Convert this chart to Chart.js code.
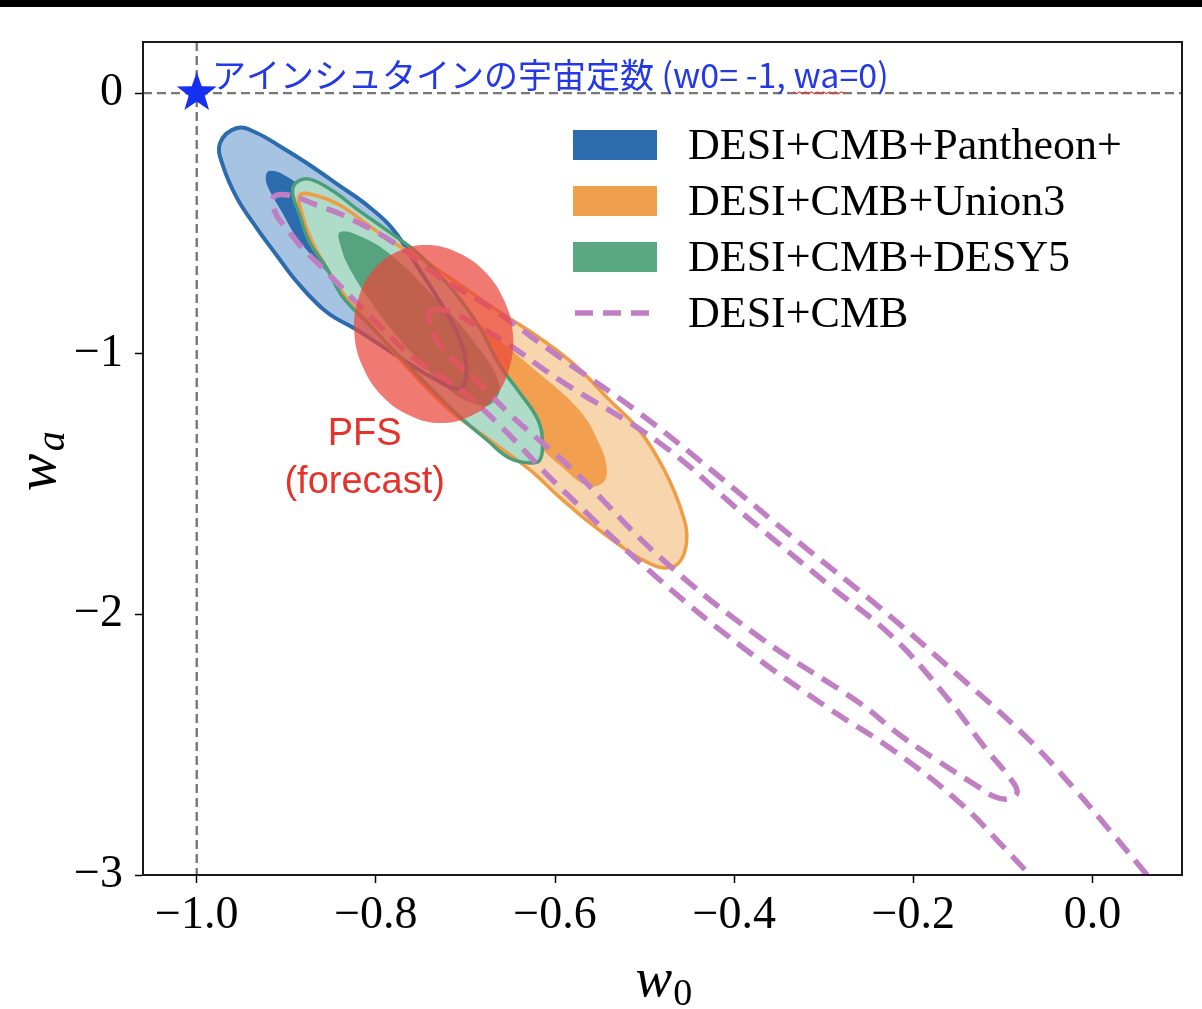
<!DOCTYPE html>
<html>
<head>
<meta charset="utf-8">
<script src="https://cdn.jsdelivr.net/npm/chart.js@4.4.1/dist/chart.umd.min.js"></script>
<style>
  html, body { margin: 0; padding: 0; background: #fff; }
  #wrap { position: relative; width: 1202px; height: 1009px; }
  #topbar { position: absolute; left: 0; top: 0; width: 1202px; height: 7px; background: #000; }
</style>
</head>
<body>
<div id="wrap"><canvas id="chart"></canvas><div id="topbar"></div></div>
<script>
// --- data (w0, wa) ---
const xTicks = [-1.0, -0.8, -0.6, -0.4, -0.2, 0.0];
const yTicks = [0, -1, -2, -3];
const seriesLabels = ['DESI+CMB+Pantheon+', 'DESI+CMB+Union3', 'DESI+CMB+DESY5', 'DESI+CMB'];
const lambdaPoint = [-1, 0];
const lambdaLabel = 'アインシュタインの宇宙定数 (w0= -1, wa=0)';
const pfsLabel = ['PFS', '(forecast)'];

const pantheonOuter = [
  [-0.955, -0.134], [-0.933, -0.153], [-0.904, -0.211], [-0.874, -0.276], [-0.840, -0.357],
  [-0.810, -0.430], [-0.781, -0.522], [-0.751, -0.679], [-0.725, -0.821], [-0.706, -0.947],
  [-0.699, -1.063], [-0.706, -1.132], [-0.732, -1.101], [-0.773, -1.016], [-0.821, -0.909],
  [-0.855, -0.840], [-0.888, -0.725], [-0.911, -0.621], [-0.933, -0.518], [-0.955, -0.403],
  [-0.971, -0.276], [-0.974, -0.192]
];
const pantheonInner = [
  [-0.919, -0.299], [-0.902, -0.315], [-0.879, -0.372], [-0.852, -0.449], [-0.818, -0.564],
  [-0.779, -0.717], [-0.746, -0.890], [-0.723, -1.043], [-0.718, -1.120], [-0.729, -1.112],
  [-0.757, -1.024], [-0.796, -0.890], [-0.835, -0.756], [-0.865, -0.648], [-0.888, -0.556],
  [-0.905, -0.456], [-0.919, -0.372], [-0.923, -0.326]
];
const union3Outer = [
  [-0.885, -0.391], [-0.865, -0.395], [-0.840, -0.430], [-0.813, -0.495], [-0.785, -0.564],
  [-0.751, -0.633], [-0.706, -0.736], [-0.662, -0.840], [-0.617, -0.940], [-0.578, -1.043],
  [-0.539, -1.178], [-0.506, -1.293], [-0.478, -1.446], [-0.458, -1.611], [-0.453, -1.715],
  [-0.461, -1.799], [-0.478, -1.822], [-0.500, -1.795], [-0.528, -1.734], [-0.561, -1.649],
  [-0.595, -1.550], [-0.628, -1.446], [-0.673, -1.331], [-0.718, -1.216], [-0.762, -1.063],
  [-0.801, -0.909], [-0.835, -0.775], [-0.857, -0.660], [-0.872, -0.564], [-0.882, -0.468]
];
const union3Inner = [
  [-0.773, -0.648], [-0.729, -0.756], [-0.676, -0.909], [-0.625, -1.055], [-0.573, -1.216],
  [-0.550, -1.350], [-0.542, -1.446], [-0.547, -1.496], [-0.564, -1.507], [-0.595, -1.427],
  [-0.628, -1.323], [-0.662, -1.216], [-0.706, -1.063], [-0.746, -0.871], [-0.768, -0.736]
];
const desy5Outer = [
  [-0.888, -0.341], [-0.874, -0.330], [-0.848, -0.376], [-0.818, -0.453], [-0.788, -0.526],
  [-0.751, -0.621], [-0.712, -0.765], [-0.684, -0.901], [-0.662, -1.043], [-0.640, -1.147],
  [-0.619, -1.254], [-0.614, -1.343], [-0.617, -1.408], [-0.628, -1.419], [-0.651, -1.400],
  [-0.676, -1.331], [-0.706, -1.243], [-0.737, -1.139], [-0.773, -1.013], [-0.807, -0.890],
  [-0.837, -0.782], [-0.855, -0.671], [-0.874, -0.572], [-0.885, -0.468], [-0.893, -0.380]
];
const desy5Inner = [
  [-0.840, -0.533], [-0.813, -0.556], [-0.779, -0.633], [-0.737, -0.775], [-0.692, -0.947],
  [-0.662, -1.120], [-0.673, -1.197], [-0.695, -1.185], [-0.718, -1.139], [-0.773, -0.947],
  [-0.807, -0.794], [-0.827, -0.687], [-0.838, -0.602]
];
// DESI+CMB 95%: open, both ends leave the plot through the bottom edge
const cmbOuter = [
  [0.061, -3.000], [0.019, -2.827], [-0.022, -2.662], [-0.074, -2.470], [-0.148, -2.240],
  [-0.238, -1.972], [-0.327, -1.726], [-0.416, -1.473], [-0.506, -1.227], [-0.595, -1.013],
  [-0.673, -0.821], [-0.729, -0.706], [-0.781, -0.572], [-0.837, -0.468], [-0.866, -0.430],
  [-0.898, -0.391], [-0.915, -0.403], [-0.911, -0.468], [-0.900, -0.518], [-0.885, -0.583],
  [-0.855, -0.687], [-0.799, -0.882], [-0.759, -1.013], [-0.706, -1.139], [-0.662, -1.274],
  [-0.595, -1.511], [-0.483, -1.868], [-0.391, -2.125], [-0.297, -2.355], [-0.223, -2.520],
  [-0.148, -2.723], [-0.096, -2.904], [-0.070, -3.000]
];
const cmbInner = [
  [-0.738, -0.833], [-0.714, -0.844], [-0.684, -0.898], [-0.654, -0.959], [-0.595, -1.101],
  [-0.483, -1.343], [-0.386, -1.626], [-0.297, -1.880], [-0.223, -2.087], [-0.163, -2.317],
  [-0.118, -2.520], [-0.093, -2.624], [-0.084, -2.681], [-0.093, -2.708], [-0.109, -2.700],
  [-0.129, -2.658], [-0.171, -2.566], [-0.215, -2.463], [-0.260, -2.340], [-0.372, -2.087],
  [-0.483, -1.780], [-0.580, -1.446], [-0.647, -1.243], [-0.692, -1.089], [-0.714, -1.024],
  [-0.732, -0.947], [-0.740, -0.882]
];
const pfsEllipse = [
  [-0.647, -0.924], [-0.657, -0.794], [-0.679, -0.683], [-0.710, -0.610], [-0.743, -0.583],
  [-0.777, -0.610], [-0.804, -0.683], [-0.820, -0.794], [-0.824, -0.924], [-0.814, -1.055],
  [-0.792, -1.166], [-0.761, -1.239], [-0.728, -1.266], [-0.694, -1.239], [-0.667, -1.166],
  [-0.651, -1.055]
];

// label anchors in data units
const pfsLabelAt = [-0.8125, -1.31];
const lambdaLabelAt = [-0.983, 0.02];

const colors = {
  pantheon: '#2d6baf', pantheonLight: '#a6c4e1',
  union3: '#f09c47', union3Inner: '#f2a050', union3Light: '#f8d6ad',
  desy5: '#4c9e78', desy5Inner: '#55a47f', desy5Light: '#afdcc8',
  cmb: '#c17fc3', pfs: 'rgba(234, 70, 58, 0.72)'
};
const legendSwatch = ['#2d6baf', '#f0a04c', '#5aa884'];

const pts = arr => arr.map(p => ({ x: p[0], y: p[1] }));

function fillSet(arr, color, order) {
  return { data: pts(arr), closed: true, fill: 'shape', backgroundColor: color,
           borderWidth: 0, pointRadius: 0, tension: 0.4, order };
}
function lineSet(arr, color, width, order, dash, closed) {
  return { data: pts(arr), closed, fill: false, borderColor: color, borderWidth: width,
           borderDash: dash || [], pointRadius: 0, tension: 0.4, order,
           borderCapStyle: 'butt', borderJoinStyle: 'round' };
}

// make the closed contours loop smoothly back to their first point
const loopPlugin = {
  id: 'closedContours',
  afterDatasetUpdate(chart, args) {
    const ds = chart.data.datasets[args.index];
    if (!ds.closed) return;
    const line = chart.getDatasetMeta(args.index).dataset;
    line._loop = true;
    line._fullLoop = true;
    line._pointsUpdated = false;
    line._segments = undefined;
    line._path = undefined;
  }
};

function drawStar(ctx, cx, cy, R, r) {
  ctx.beginPath();
  for (let i = 0; i < 10; i++) {
    const ang = -Math.PI / 2 + i * Math.PI / 5;
    const rad = i % 2 ? r : R;
    ctx.lineTo(cx + rad * Math.cos(ang), cy + rad * Math.sin(ang));
  }
  ctx.closePath();
  ctx.fill();
}

const decorPlugin = {
  id: 'decor',
  beforeDatasetsDraw(chart) {
    const { ctx, chartArea: a, scales: { x, y } } = chart;
    ctx.save();
    ctx.strokeStyle = '#777';
    ctx.lineWidth = 2.4;
    ctx.setLineDash([9, 5]);
    ctx.beginPath();
    const px = x.getPixelForValue(lambdaPoint[0]);
    const py = y.getPixelForValue(lambdaPoint[1]);
    ctx.moveTo(px, a.top); ctx.lineTo(px, a.bottom);
    ctx.moveTo(a.left, py); ctx.lineTo(a.right, py);
    ctx.stroke();
    ctx.restore();
  },
  afterDraw(chart) {
    const { ctx, chartArea: a, scales: { x, y } } = chart;
    ctx.save();

    // frame
    ctx.strokeStyle = '#1a1a1a';
    ctx.lineWidth = 2;
    ctx.strokeRect(a.left, a.top, a.width, a.height);

    // cosmological constant star + label
    ctx.fillStyle = '#1530f0';
    drawStar(ctx, x.getPixelForValue(lambdaPoint[0]), y.getPixelForValue(lambdaPoint[1]), 21, 8.5);
    ctx.fillStyle = '#2338e6';
    ctx.font = '34px "Noto Sans CJK JP"';
    ctx.textAlign = 'left';
    ctx.textBaseline = 'alphabetic';
    const lx = x.getPixelForValue(lambdaLabelAt[0]);
    const ly = y.getPixelForValue(lambdaLabelAt[1]);
    ctx.fillText(lambdaLabel, lx, ly);
    // spell-check squiggle under "wa"
    const pre = lambdaLabel.slice(0, lambdaLabel.indexOf('wa='));
    const sx = lx + ctx.measureText(pre).width;
    const sw = ctx.measureText('wa').width + 4;
    ctx.strokeStyle = '#e03a3a';
    ctx.lineWidth = 1.2;
    ctx.beginPath();
    for (let i = 0; i <= Math.round(sw / 3); i++) {
      ctx.lineTo(sx + i * 3, ly + 4 + (i % 2 ? 2 : 0));
    }
    ctx.stroke();

    // PFS label
    ctx.fillStyle = '#e5322a';
    ctx.font = '38px "Liberation Sans"';
    ctx.textAlign = 'center';
    ctx.textBaseline = 'middle';
    const tx = x.getPixelForValue(pfsLabelAt[0]);
    const ty = y.getPixelForValue(pfsLabelAt[1]);
    ctx.fillText(pfsLabel[0], tx, ty);
    ctx.fillText(pfsLabel[1], tx, ty + 48);

    // legend
    ctx.textAlign = 'left';
    seriesLabels.forEach((name, i) => {
      const cy = a.top + 103 + i * 56;
      if (i < 3) {
        ctx.fillStyle = legendSwatch[i];
        ctx.fillRect(a.left + 430, cy - 15, 84, 30);
      } else {
        ctx.strokeStyle = colors.cmb;
        ctx.lineWidth = 5.5;
        ctx.setLineDash([18, 10]);
        ctx.beginPath();
        ctx.moveTo(a.left + 432, cy); ctx.lineTo(a.left + 508, cy);
        ctx.stroke();
        ctx.setLineDash([]);
      }
      ctx.fillStyle = '#000';
      ctx.font = '44px "Liberation Serif"';
      ctx.textBaseline = 'middle';
      ctx.fillText(name, a.left + 545, cy + 2);
    });

    // axis titles: w_0 and w_a
    ctx.fillStyle = '#000';
    ctx.textBaseline = 'alphabetic';
    ctx.textAlign = 'left';
    const xc = (a.left + a.right) / 2;
    ctx.font = 'italic 55px "Liberation Serif"';
    const ww = ctx.measureText('w').width;
    ctx.fillText('w', xc - 27, 996);
    ctx.font = '38px "Liberation Serif"';
    ctx.fillText('0', xc - 27 + ww + 1, 1005);

    ctx.translate(55, 491);
    ctx.rotate(-Math.PI / 2);
    ctx.font = 'italic 56px "Liberation Serif"';
    ctx.fillText('w', 0, 0);
    ctx.font = 'italic 40px "Liberation Serif"';
    ctx.fillText('a', ww + 3, 9);
    ctx.restore();
  }
};

const fmt = (v, d) => (v < 0 ? '\u2212' : '') + Math.abs(v).toFixed(d);

new Chart(document.getElementById('chart'), {
  type: 'line',
  data: {
    datasets: [
      // fills (bottom)
      fillSet(pantheonOuter, colors.pantheonLight, 20),
      fillSet(pantheonInner, colors.pantheon, 19),
      fillSet(union3Outer, colors.union3Light, 17),
      fillSet(union3Inner, colors.union3Inner, 16),
      fillSet(desy5Outer, colors.desy5Light, 15),
      fillSet(desy5Inner, colors.desy5Inner, 14),
      // outlines
      lineSet(pantheonOuter, colors.pantheon, 4, 12, null, true),
      lineSet(union3Outer, colors.union3, 3.5, 11, null, true),
      lineSet(desy5Outer, colors.desy5, 3.5, 10, null, true),
      // DESI+CMB dashed
      lineSet(cmbOuter, colors.cmb, 5.5, 5, [19, 10], false),
      lineSet(cmbInner, colors.cmb, 5.5, 4, [19, 10], true),
      // PFS forecast (top)
      fillSet(pfsEllipse, colors.pfs, 1)
    ]
  },
  options: {
    responsive: true,
    maintainAspectRatio: false,
    animation: false,
    layout: { padding: { top: 42, right: 20, left: 0, bottom: 0 } },
    plugins: { legend: { display: false }, tooltip: { enabled: false } },
    scales: {
      x: {
        type: 'linear', min: -1.06, max: 0.1,
        afterBuildTicks: s => { s.ticks = xTicks.map(v => ({ value: v })); },
        afterFit: s => { s.height = 134; },
        ticks: { color: '#000', padding: 5, maxRotation: 0, autoSkip: false,
                 font: { family: 'Liberation Serif', size: 46 },
                 callback: v => fmt(v, 1) },
        grid: { drawOnChartArea: false, tickLength: 8, tickWidth: 1.5, tickColor: '#000' },
        border: { color: '#1a1a1a', width: 2 }
      },
      y: {
        type: 'linear', min: -3, max: 0.196,
        afterBuildTicks: s => { s.ticks = yTicks.map(v => ({ value: v })); },
        afterFit: s => { s.width = 143; },
        ticks: { color: '#000', padding: 12, autoSkip: false,
                 font: { family: 'Liberation Serif', size: 46 },
                 callback: v => fmt(v, 0) },
        grid: { drawOnChartArea: false, tickLength: 8, tickWidth: 1.5, tickColor: '#000' },
        border: { color: '#1a1a1a', width: 2 }
      }
    }
  },
  plugins: [loopPlugin, decorPlugin]
});
</script>
</body>
</html>
